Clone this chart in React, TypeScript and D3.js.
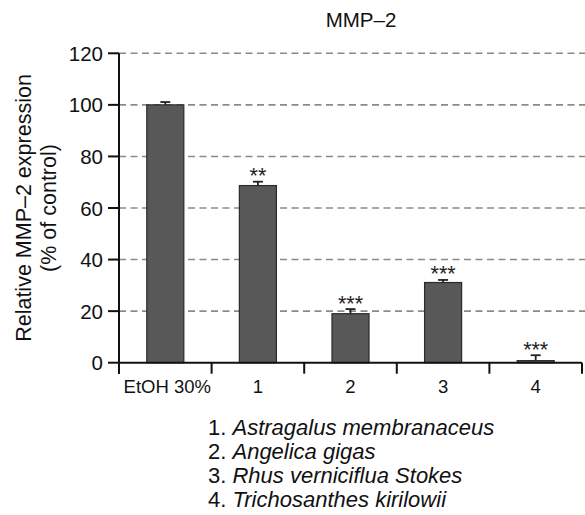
import {useEffect, useRef} from "react";
import * as d3 from "d3";

// Data
const categories = ["EtOH 30%", "1", "2", "3", "4"];
const means = [100, 68.7, 19.0, 31.1, 0.8];
const errors = [1.1, 1.5, 1.8, 1.0, 2.1];
const stars = ["", "**", "***", "***", "***"];
const yTicks = [0, 20, 40, 60, 80, 100, 120];
const legendNums = ["1.", "2.", "3.", "4."];
const legendNames = ["Astragalus membranaceus", "Angelica gigas", "Rhus verniciflua Stokes", "Trichosanthes kirilowii"];

const FONT = "'Liberation Sans', Arial, Helvetica, sans-serif";

const App = () => {
    const svgRef = useRef<SVGSVGElement>(null);

    useEffect(() => {
        const width = 585;
        const left = 119;
        const right = 582;
        const top = 53.3;
        const bottom = 362.7;

        const svg = d3.select(svgRef.current);
        svg.selectAll("*").remove();

        const x = d3.scaleBand().domain(categories).range([left, right]).paddingInner(0.6).paddingOuter(0.3);
        const xEdges = d3.scaleBand().domain(categories).range([left, right]).padding(0);
        const y = d3.scaleLinear().domain([0, 120]).range([bottom, top]);

        // dashed grid
        svg.append("g")
            .selectAll("line")
            .data(yTicks.filter(d => d > 0))
            .enter()
            .append("line")
            .attr("x1", left)
            .attr("x2", width)
            .attr("y1", d => y(d))
            .attr("y2", d => y(d))
            .attr("stroke", "#8a8a8a")
            .attr("stroke-width", 1.6)
            .attr("stroke-dasharray", "7,4.5");

        // bars
        svg.append("g")
            .selectAll("rect")
            .data(means)
            .enter()
            .append("rect")
            .attr("x", (d, i) => x(categories[i])!)
            .attr("width", x.bandwidth())
            .attr("y", d => y(d))
            .attr("height", d => bottom - y(d))
            .attr("fill", "#585858")
            .attr("stroke", "#2a2a2a")
            .attr("stroke-width", 1.2);

        // error bars (upper only) + significance stars
        const eb = svg.append("g").attr("stroke", "#222").attr("stroke-width", 1.8);
        means.forEach((m, i) => {
            const cx = x(categories[i])! + x.bandwidth() / 2;
            eb.append("line").attr("x1", cx).attr("x2", cx).attr("y1", y(m)).attr("y2", y(m + errors[i]));
            eb.append("line").attr("x1", cx - 5).attr("x2", cx + 5).attr("y1", y(m + errors[i])).attr("y2", y(m + errors[i]));
            if (stars[i]) {
                svg.append("text")
                    .attr("x", cx)
                    .attr("y", y(m + errors[i]) + 1.5)
                    .attr("text-anchor", "middle")
                    .attr("font-family", FONT)
                    .attr("font-size", 21.5)
                    .attr("fill", "#222")
                    .text(stars[i]);
            }
        });

        // axes
        const axis = svg.append("g").attr("stroke", "#111").attr("stroke-width", 2);
        axis.append("line").attr("x1", left).attr("x2", left).attr("y1", top).attr("y2", bottom + 11);
        axis.append("line").attr("x1", left).attr("x2", right).attr("y1", bottom).attr("y2", bottom);
        yTicks.forEach(t => {
            axis.append("line").attr("x1", left - 11).attr("x2", left).attr("y1", y(t)).attr("y2", y(t));
        });
        const edges = categories.map(c => xEdges(c)!).concat([right]);
        edges.forEach(e => {
            axis.append("line").attr("x1", e).attr("x2", e).attr("y1", bottom).attr("y2", bottom + 11);
        });

        // y tick labels
        svg.append("g")
            .selectAll("text")
            .data(yTicks)
            .enter()
            .append("text")
            .attr("x", left - 16)
            .attr("y", d => y(d) + 7.5)
            .attr("text-anchor", "end")
            .attr("font-family", FONT)
            .attr("font-size", 20.5)
            .attr("fill", "#111")
            .text(d => d);

        // x tick labels
        svg.append("g")
            .selectAll("text")
            .data(categories)
            .enter()
            .append("text")
            .attr("x", d => xEdges(d)! + xEdges.bandwidth() / 2 + (d === "EtOH 30%" ? 2 : 0))
            .attr("y", 393)
            .attr("text-anchor", "middle")
            .attr("font-family", FONT)
            .attr("font-size", 18.5)
            .attr("fill", "#111")
            .text(d => d);

        // title
        svg.append("text")
            .attr("x", 361)
            .attr("y", 27)
            .attr("text-anchor", "middle")
            .attr("font-family", FONT)
            .attr("font-size", 20.5)
            .attr("fill", "#111")
            .text("MMP–2");

        // y label
        const yl = svg.append("g").attr("transform", "translate(0,208) rotate(-90)");
        yl.append("text")
            .attr("x", 0)
            .attr("y", 31)
            .attr("text-anchor", "middle")
            .attr("font-family", FONT)
            .attr("font-size", 21.5)
            .attr("fill", "#111")
            .text("Relative MMP–2 expression");
        yl.append("text")
            .attr("x", 0)
            .attr("y", 56)
            .attr("text-anchor", "middle")
            .attr("font-family", FONT)
            .attr("font-size", 21.5)
            .attr("fill", "#111")
            .text("(% of control)");

        // legend
        const lg = svg.append("g");
        legendNames.forEach((name, i) => {
            const t = lg.append("text")
                .attr("x", 208)
                .attr("y", 435 + i * 24)
                .attr("font-family", FONT)
                .attr("font-size", 22)
                .attr("fill", "#111");
            t.append("tspan").text(legendNums[i] + " ");
            t.append("tspan").attr("font-style", "italic").text(name);
        });
    }, []);

    return (
        <svg ref={svgRef} width={585} height={515}
             style={{position: "absolute", left: 0, top: 0, background: "#fff"}} />
    );
};

export default App;
